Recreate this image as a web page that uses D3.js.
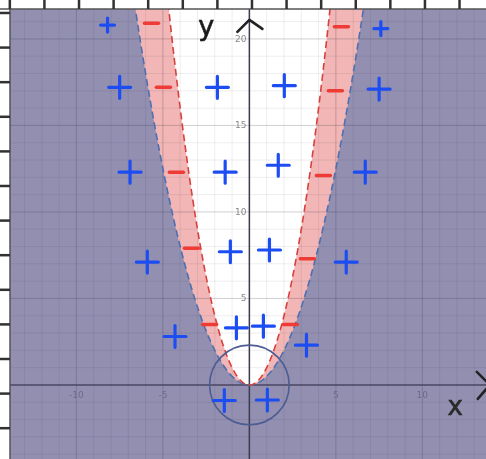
<!DOCTYPE html>
<html><head><meta charset="utf-8">
<script src="https://cdn.jsdelivr.net/npm/d3@7"></script>
<style>html,body{margin:0;padding:0;background:#fff;}svg{display:block;}</style>
</head><body>
<svg id="c" width="486" height="459"></svg>
<script>
// ---- data ----
const innerCoef = 1.0;      // y = x^2   (red dashed)
const outerCoef = 0.5;      // y = x^2/2 (blue dashed)
const plusX = [-8.2,-7.5,-6.9,-5.9,-4.3,-1.45,1.04,-0.75,0.81,-1.1,1.16,-1.4,1.67,-1.85,2.02,3.3,5.6,6.7,7.5,7.6];
const plusY = [20.8,17.2,12.3,7.1,2.8,-0.9,-0.87,3.3,3.4,7.7,7.8,12.3,12.7,17.2,17.3,2.3,7.1,12.3,17.1,20.6];
const plusBig = [0,1,1,1,1,1,1,1,1,1,1,1,1,1,1,1,1,1,1,0];
const minusX = [-5.66,-4.97,-4.22,-3.35,-2.3,5.32,4.97,4.28,3.35,2.37];
const minusY = [20.9,17.2,12.3,7.9,3.5,20.7,17.0,12.1,7.3,3.5];
const xTickLabels = [-10,-5,5,10];
const yTickLabels = [5,10,15,20];
const circleR = 2.3;
const frameTicksX = [-13.85,-11.85,-9.85,-7.85,-5.85,-3.85,-1.85,0.15,2.15,4.15,6.15,8.15,10.15,12.15];
const frameTicksY = [21.5,19.5,17.5,15.5,13.5,11.5,9.5,7.5,5.5,3.5,1.5,-0.5,-2.5,-4.5];

// ---- layout ----
const svg = d3.select("#c");
const W = 486, H = 459;
const leftM = 10, topM = 9;
const x = d3.scaleLinear().domain([-13.84, 13.68]).range([leftM, W]);
const y = d3.scaleLinear().domain([21.73, -4.28]).range([topM, H]);

const defs = svg.append("defs");
defs.append("clipPath").attr("id","plot")
  .append("rect").attr("x",leftM).attr("y",topM).attr("width",W-leftM).attr("height",H-topM);
defs.append("filter").attr("id","soft").attr("x","-5%").attr("y","-5%").attr("width","110%").attr("height","110%")
  .append("feGaussianBlur").attr("stdDeviation",0.6);

const root = svg.append("g").attr("filter","url(#soft)");
const g = root.append("g").attr("clip-path","url(#plot)");

// background purple
g.append("rect").attr("x",leftM).attr("y",topM).attr("width",W-leftM).attr("height",H-topM).attr("fill","#928fb1");

const xs = d3.range(-14, 14.001, 0.05);
const areaAbove = c => d3.area().x(d=>x(d)).y0(y(30)).y1(d=>y(c*d*d))(xs);
g.append("path").attr("d", areaAbove(outerCoef)).attr("fill","#f1b6b5");
g.append("path").attr("d", areaAbove(innerCoef)).attr("fill","#ffffff");

// grid
const minor = d3.range(-14, 15, 1);
const minorY = d3.range(-5, 23, 1);
g.selectAll(".gx").data(minor).join("line")
  .attr("x1",d=>x(d)).attr("x2",d=>x(d)).attr("y1",topM).attr("y2",H)
  .attr("stroke", d => d%5===0 ? "rgba(40,40,60,0.22)" : "rgba(40,40,60,0.08)").attr("stroke-width",1);
g.selectAll(".gy").data(minorY).join("line")
  .attr("y1",d=>y(d)).attr("y2",d=>y(d)).attr("x1",leftM).attr("x2",W)
  .attr("stroke", d => d%5===0 ? "rgba(40,40,60,0.22)" : "rgba(40,40,60,0.08)").attr("stroke-width",1);

// axes
g.append("line").attr("x1",leftM).attr("x2",W).attr("y1",y(0)).attr("y2",y(0)).attr("stroke","#4c4a66").attr("stroke-width",1.5);
g.append("line").attr("x1",x(0)).attr("x2",x(0)).attr("y1",topM).attr("y2",H).attr("stroke","#3c3a50").attr("stroke-width",1.5);

// tick labels
g.selectAll(".xl").data(xTickLabels).join("text")
  .attr("x",d=>x(d)).attr("y",y(0)+13).attr("text-anchor","middle")
  .attr("font-family","DejaVu Sans").attr("font-size",9).attr("fill","#6e6b85").text(d=>d);
g.selectAll(".yl").data(yTickLabels).join("text")
  .attr("x",x(0)-3).attr("y",d=>y(d)+3).attr("text-anchor","end")
  .attr("font-family","DejaVu Sans").attr("font-size",9).attr("fill","#888").text(d=>d);

// boundary curves
const line = c => d3.line().x(d=>x(d)).y(d=>y(c*d*d))(xs);
g.append("path").attr("d", line(outerCoef)).attr("fill","none").attr("stroke","#4f6fb0").attr("stroke-width",1.6).attr("stroke-dasharray","7,4");
g.append("path").attr("d", line(innerCoef)).attr("fill","none").attr("stroke","#d9413c").attr("stroke-width",1.6).attr("stroke-dasharray","7,4");

// circle
g.append("circle").attr("cx",x(0)).attr("cy",y(0)).attr("r",x(circleR)-x(0))
  .attr("fill","none").attr("stroke","#4d5b92").attr("stroke-width",1.6);

// plus signs
const plus = plusX.map((v,i)=>({x:v,y:plusY[i],big:plusBig[i]}));
g.selectAll(".p").data(plus).join("path")
  .attr("d", d => { const s = d.big?11:7; const cx=x(d.x), cy=y(d.y);
    return `M${cx-s},${cy}L${cx+s},${cy}M${cx},${cy-s}L${cx},${cy+s}`; })
  .attr("stroke","#1f4ef2").attr("stroke-width",3.2).attr("stroke-linecap","round").attr("fill","none");

// minus signs
const minus = minusX.map((v,i)=>({x:v,y:minusY[i]}));
g.selectAll(".m").data(minus).join("line")
  .attr("x1",d=>x(d.x)-7).attr("x2",d=>x(d.x)+7).attr("y1",d=>y(d.y)).attr("y2",d=>y(d.y))
  .attr("stroke","#ee3a36").attr("stroke-width",3.5).attr("stroke-linecap","round");

// axis arrows (hand drawn)
const ax = x(0), ay = y(21.1);
root.append("path").attr("d",`M${ax-12},${ay+12}L${ax},${ay}L${ax+13},${ay+9}`)
  .attr("fill","none").attr("stroke","#222").attr("stroke-width",2.6).attr("stroke-linecap","round").attr("stroke-linejoin","round");
const bx = x(13.9), by = y(0);
root.append("path").attr("d",`M${bx-13},${by-13}L${bx},${by}L${bx-12},${by+14}`)
  .attr("fill","none").attr("stroke","#222").attr("stroke-width",2.6).attr("stroke-linecap","round");

// hand labels
root.append("text").attr("x",x(-2.95)).attr("y",y(20.2)).attr("font-family","DejaVu Sans").attr("font-size",27)
  .attr("fill","#1a1a1a").attr("stroke","#1a1a1a").attr("stroke-width",0.6).text("y");
root.append("text").attr("x",x(11.45)).attr("y",y(-1.75)).attr("font-family","DejaVu Sans").attr("font-size",26)
  .attr("fill","#2a2a2a").attr("stroke","#2a2a2a").attr("stroke-width",0.6).text("x");

// frame (ruler-like edges)
root.append("line").attr("x1",leftM).attr("x2",leftM).attr("y1",0).attr("y2",H).attr("stroke","#555").attr("stroke-width",1.5);
root.append("line").attr("x1",0).attr("x2",W).attr("y1",topM).attr("y2",topM).attr("stroke","#555").attr("stroke-width",1.5);
root.selectAll(".ft").data(frameTicksX).join("line")
  .attr("x1",d=>x(d)).attr("x2",d=>x(d)).attr("y1",0).attr("y2",topM)
  .attr("stroke","#333").attr("stroke-width",2.5);
root.selectAll(".fl").data(frameTicksY).join("line")
  .attr("y1",d=>y(d)).attr("y2",d=>y(d)).attr("x1",0).attr("x2",leftM)
  .attr("stroke","#333").attr("stroke-width",2.5);
</script>
</body></html>
